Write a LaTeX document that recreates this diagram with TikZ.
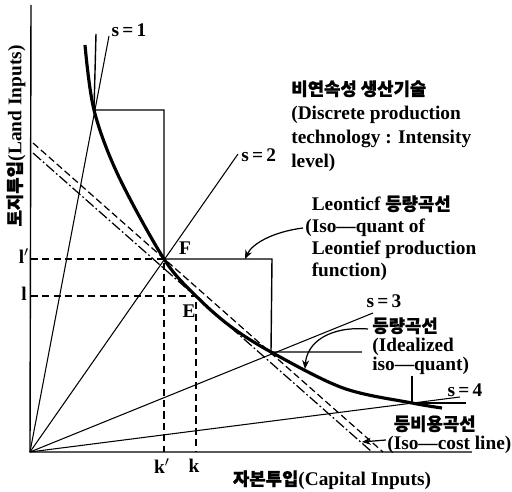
\documentclass[tikz,border=0pt]{standalone}
\usepackage{fontspec}
\setmainfont{Liberation Serif}
\newfontfamily\kr[FakeBold=1,Scale=0.92]{Noto Sans CJK KR}
\usetikzlibrary{arrows.meta}
\newcommand{\hg}[1]{{\kr #1}}

\begin{document}
\begin{tikzpicture}[
  x=0.02cm, y=-0.02cm,
  axis/.style={line width=0.8pt},
  ray/.style={line width=0.6pt},
  lstep/.style={line width=0.8pt},
  guide/.style={line width=0.7pt, dash pattern=on 4pt off 2.5pt},
  costdash/.style={line width=0.7pt, dash pattern=on 4pt off 2pt},
  costdot/.style={line width=0.7pt, dash pattern=on 6pt off 1.5pt on 1pt off 1.5pt},
  isoq/.style={line width=1.8pt},
  lbl/.style={font=\bfseries\fontsize{11}{13}\selectfont, inner sep=0pt},
  block/.style={lbl, align=left, anchor=north west},
  leader/.style={line width=0.7pt, -{Stealth[length=5pt,width=4pt]}}
]
\useasboundingbox (0,0) rectangle (512,492);

\coordinate (O) at (30,452);
\coordinate (ytop) at (31,5);
\coordinate (xend) at (472,452);
\coordinate (A) at (94,110);
\coordinate (F) at (164,259);
\coordinate (E) at (196,296);
\coordinate (C) at (271,352);
\coordinate (D) at (412,403);

\draw[axis] (ytop) -- (O) -- (xend);

\node[lbl] (s1) at (129,30) {s\,=\,1};
\node[lbl, anchor=west] (s2) at (241,155) {s\,=\,2};
\node[lbl] (s3) at (384,301) {s\,=\,3};
\node[lbl] (s4) at (465,390) {s\,=\,4};
\coordinate (s1end) at (109,36);
\coordinate (s2end) at (238,154);
\coordinate (s3end) at (373,313);
\coordinate (s4end) at (460,397);
\draw[ray] (O) -- (s1end);
\draw[ray] (O) -- (s2end);
\draw[ray] (O) -- (s3end);
\draw[ray] (O) -- (s4end);

\draw[lstep] (96,34) -- (A) -- (164,110) -- (F) -- (272,259) -- (C) -- (362,352);
\draw[lstep] (412,376) -- (D) -- (466,403);

\draw[isoq] plot[smooth, tension=0.55] coordinates {(85,45) (94,110) (118,175) (164,259) (196,296) (230,326) (271,352) (343,388) (412,403) (442,408)};

\draw[costdash] (33,143) -- (383,452);
\draw[costdot] (33,153) -- (372,452);

\node[lbl] (lp) at (24,256) {l$'$};
\node[lbl] (l) at (24,294) {l};
\node[lbl] (kp) at (162,466) {k$'$};
\node[lbl] (k) at (194,466) {k};
\node[lbl] (Flbl) at (185,248) {F};
\node[lbl] (Elbl) at (189,311) {E};
\draw[guide] (31,259) -- (F) -- (164,452);
\draw[guide] (31,296) -- (E) -- (196,452);

\node[lbl, rotate=90] (ylbl) at (16,136) {\hg{토지투입}(Land Inputs)};
\node[lbl] (xlbl) at (332,480) {\hg{자본투입}(Capital Inputs)};

\node[block, font=\bfseries\fontsize{11}{13.7}\selectfont] (discrete) at (291,80)
  {\hg{비연속성 생산기술}\\(Discrete production\\technology : Intensity\\level)};
\node[block, font=\bfseries\fontsize{11}{12.6}\selectfont] (leon) at (305,195)
  {\hphantom{(}Leonticf \hg{등량곡선}\\(Iso—quant of\\\hphantom{(}Leontief production\\\hphantom{(}function)};
\node[block, font=\bfseries\fontsize{11}{10.9}\selectfont] (ideal) at (372,317)
  {\hg{등량곡선}\\(Idealized\\iso—quant)};
\node[block, font=\bfseries\fontsize{11}{10.9}\selectfont] (cost) at (387,415)
  {\hphantom{(}\hg{등비용곡선}\\(Iso—cost line)};

\coordinate (leonTail) at (303,228);
\coordinate (leonTip) at (245,259);
\coordinate (idealTail) at (368,329);
\coordinate (idealTip) at (305,369);
\coordinate (costTail) at (386,440);
\coordinate (costTip) at (362,442);
\draw[leader] (leonTail) .. controls (272,232) and (252,244) .. (leonTip);
\draw[leader] (idealTail) .. controls (330,326) and (307,342) .. (idealTip);
\draw[leader] (costTail) -- (costTip);
\end{tikzpicture}
\end{document}
